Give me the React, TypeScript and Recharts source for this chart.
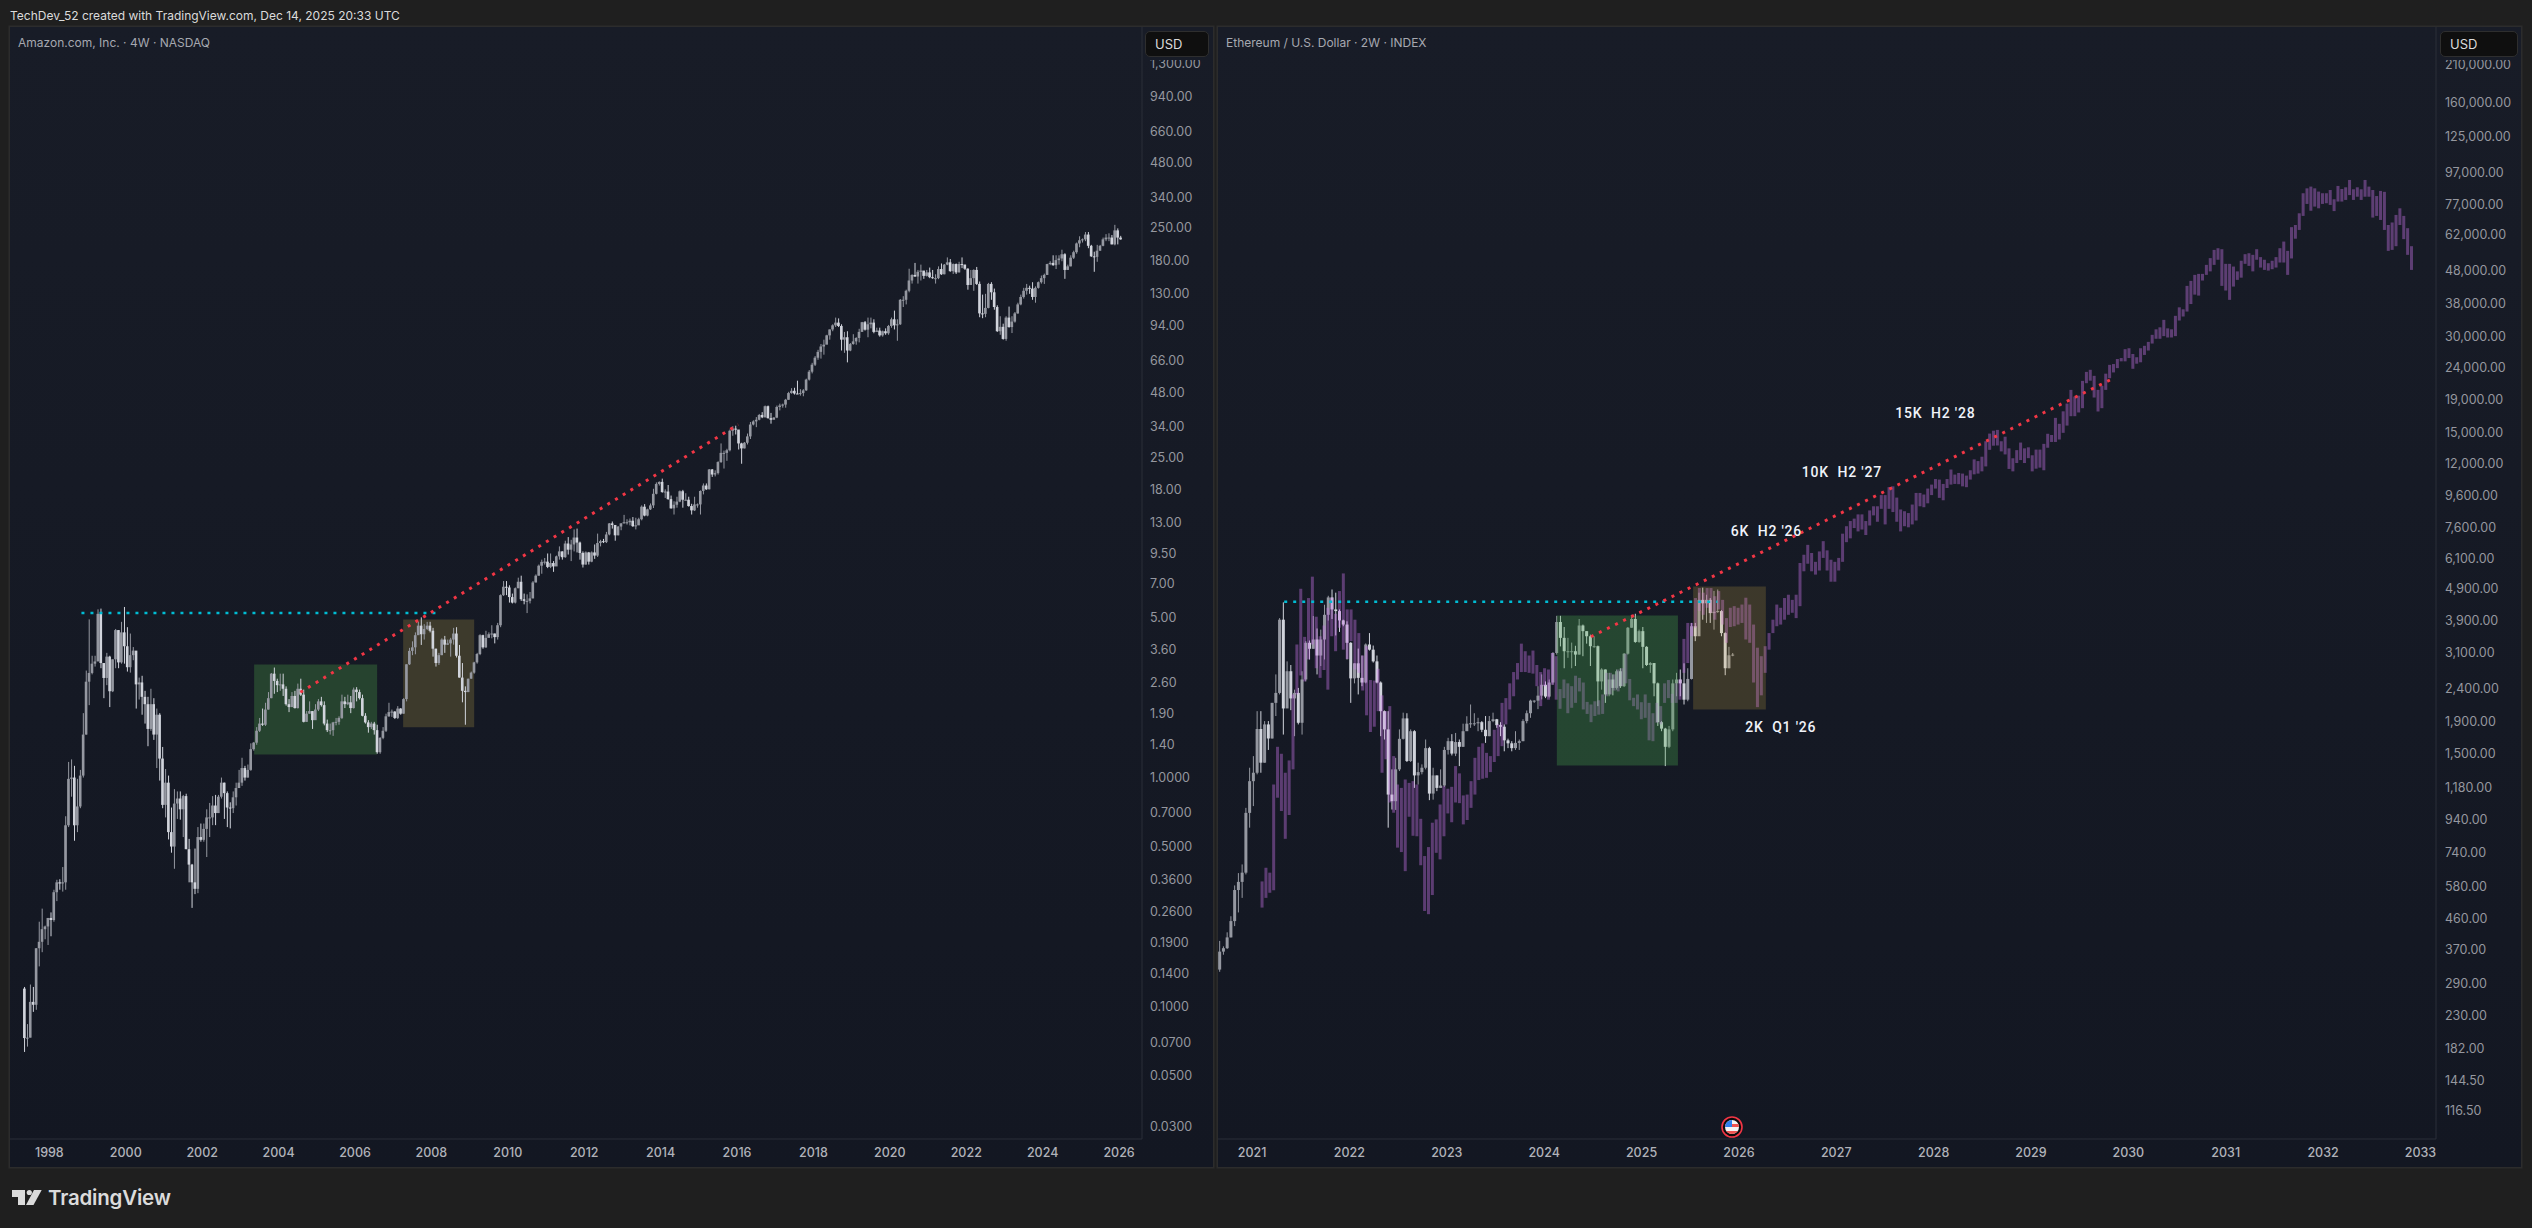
import React from "react";
import { Bar, ComposedChart, ReferenceArea, ReferenceDot, ReferenceLine, XAxis, YAxis } from "recharts";

const amznStartYear = 1997.35;
const amznStep = 1 / 13;
const amznFirstOpen = 0.12;
const amznClose = [
  .073, .0733, .105, .102, .18, .192, .218, .224, .244, .239,
  .316, .349, .345, .349, .619, .987, 1, .619, .748, 1.02,
  1.54, 2.62, 2.86, 3.14, 3.21, 5.18, 3.16, 2.72, 3.37, 2.38,
  3.28, 4.4, 3.18, 4.3, 3.74, 3.03, 3.42, 3.58, 2.55, 2.6,
  2.25, 2.09, 1.63, 2.09, 1.54, 1.88, 1.21, .76, .95, .578,
  .5, .77, .81, .727, .83, .487, .417, .349, .327, .55,
  .535, .597, .67, .67, .755, .7, .825, .95, .855, .74,
  .735, .82, .9, .95, 1.1, 1, 1.08, 1.33, 1.42, 1.6,
  1.72, 1.7, 1.98, 2.22, 2.84, 2.64, 2.53, 2.55, 2.44, 2.09,
  2.03, 2.27, 2.01, 2.44, 2.3, 1.75, 1.9, 1.95, 1.78, 1.98,
  2.15, 2.07, 1.72, 1.61, 1.61, 1.74, 1.75, 1.82, 2.15, 2.09,
  2.13, 2.01, 2.42, 2.36, 2.22, 1.86, 1.74, 1.66, 1.72, 1.61,
  1.29, 1.49, 1.6, 1.85, 1.93, 1.94, 1.82, 2, 1.9, 2.2,
  3.12, 3.57, 3.7, 4.18, 4.6, 4.22, 4.45, 4.6, 4.37, 3.65,
  3.16, 3.42, 4, 3.8, 3.85, 4, 4.25, 3.4, 2.73, 2.39,
  2.36, 2.7, 2.87, 3.18, 3.46, 4.18, 3.7, 4.07, 4.22, 4.25,
  4.1, 4.62, 6.25, 6.8, 6.75, 6.13, 5.8, 6.7, 7.15, 6,
  5.9, 5.9, 6.05, 7.1, 7.6, 8.4,
  8.73, 8.75, 8.3, 8.63, 8.34, 9.23, 9.7, 9.15, 10.5, 9.87,
  10.4, 11.15, 10.6, 9.55, 8.5, 9.6, 8.75, 9.6, 9.3, 10.55,
  10.75, 10.65, 11.5, 12.85, 12.65, 11.4, 12.45, 12.85, 13, 13,
  13.2, 12.5, 12.6, 13.4, 15.2, 13.9, 14.8, 15.4, 17.3, 19.1,
  19.5, 17.6, 17.7, 16.4, 14.95, 15.5, 16, 17.75, 16.3, 16.3,
  15.3, 14.65, 15.55, 15.55, 17.8, 18.8, 18.1, 22.1, 21, 21.3,
  23.8, 26.1, 26.1, 26.8, 32.6, 33.3, 33, 28.7, 27.3, 28.9,
  30.8, 34.7, 35.8, 36.4, 38.2, 37.3, 41.7, 37, 36.4, 37.2,
  41.4, 42, 42.4, 44.5, 47.6, 48.7, 47.4, 47.3, 47.6, 48.9,
  54.5, 59, 63.3, 67.9, 72,
  76, 77.4, 85, 90.2, 94, 96.6, 93.4, 81.4, 83.4, 73,
  77.9, 80, 82.8, 88, 97, 90, 95, 96.6, 88, 89.2,
  85, 88.6, 86.8, 93.4, 99.9, 94, 95, 121.5, 121.5, 133,
  147.5, 156, 153.5, 161, 163, 154.5, 160, 152.5, 151, 151,
  165.5, 157, 173, 177, 162, 174, 160, 174, 173, 166,
  141, 151, 164, 142.5, 106, 105.5, 112, 142.5, 131, 113,
  88.6, 92.6, 82, 101.6, 92.4, 97.6, 106, 116, 125, 133,
  137, 136, 125, 137, 145, 151, 156, 174, 176, 172,
  181, 184, 192, 164, 170, 185.5, 196, 214, 221, 223,
  234, 209, 188, 187, 199, 209, 223, 227, 227, 212,
  244, 227, 223,
];
const amznHigh = [
  .122, .084, .125, .122, .18, .235, .268, .226, .244, .258,
  .324, .358, .36, .407, .678, 1.17, 1.2, 1.125, .987, 1.08,
  1.91, 2.93, 4.9, 3.4, 3.4, 5.42, 5.46, 3.16, 3.5, 3.4,
  3.28, 4.45, 4.4, 4.78, 5.55, 4.53, 4.25, 3.71, 3.55, 2.73,
  2.78, 2.39, 2.25, 2.44, 2.22, 2, 1.91, 1.36, 1.09, 1.02,
  .74, .89, .87, .87, .84, .85, .54, .42, .49, .608,
  .63, .63, .727, .775, .83, .84, .84, 1, .95, .87,
  .78, .87, .95, 1.08, 1.22, 1.125, 1.14, 1.41, 1.43, 1.66,
  1.82, 2, 2.12, 2.36, 2.86, 3.02, 2.7, 2.84, 2.84, 2.5,
  2.2, 2.36, 2.39, 2.57, 2.7, 2.42, 1.95, 2.15, 1.95, 2.09,
  2.2, 2.25, 2.15, 1.79, 1.72, 1.75, 1.82, 1.85, 2.3, 2.25,
  2.3, 2.27, 2.47, 2.48, 2.42, 2.3, 1.91, 1.78, 1.75, 1.75,
  1.7, 1.5, 1.66, 1.9, 2.12, 1.98, 1.95, 2.05, 2.01, 2.22,
  3.12, 3.68, 3.93, 4.3, 4.78, 5, 4.67, 4.78, 4.78, 4.5,
  3.65, 3.5, 4.05, 4.15, 4, 4.07, 4.5, 4.53, 3.79, 3.16,
  2.5, 2.7, 2.9, 3.2, 3.5, 4.22, 4.2, 4.37, 4.3, 4.62,
  4.25, 4.73, 6.3, 7.2, 7.2, 6.9, 6.35, 6.75, 7.45, 7.6,
  6.35, 6.3, 6.45, 7.2, 7.7, 8.5,
  8.93, 9.08, 9.5, 9.5, 8.8, 9.3, 10.2, 9.7, 10.8, 11.2,
  10.9, 12.1, 12.2, 10.7, 9.7, 9.7, 9.65, 9.7, 10.4, 11.6,
  10.9, 11, 11.8, 12.9, 13.1, 12.6, 12.5, 12.9, 14, 13.4,
  13.5, 13.7, 13.6, 13.6, 15.4, 15.6, 14.9, 15.7, 18.2, 19.4,
  19.6, 20.15, 18.1, 18.9, 17, 16.05, 16.8, 17.9, 18, 17.4,
  16.8, 15.65, 16.8, 15.7, 17.9, 19.2, 19.2, 22.2, 22.2, 21.9,
  24, 28.7, 26.7, 27.2, 33, 34.1, 34.3, 32.6, 28.9, 29.1,
  31.7, 35.6, 36.2, 37.4, 38.6, 39.3, 42, 42, 39, 37.4,
  42, 42.8, 42.8, 44.9, 48.2, 50, 50.2, 53.9, 49.5, 49.5,
  55, 60, 64.5, 69, 73.5,
  77.9, 81.4, 85.5, 90.2, 95, 101.6, 100.8, 95, 88, 88.6,
  78.7, 86, 83.4, 90.8, 97.3, 98.2, 101.6, 101.6, 99.9, 91.8,
  91.8, 89.2, 91.2, 94.4, 101.6, 109, 99.9, 122.5, 126, 134.5,
  166, 157, 176, 164, 173, 162, 164, 168, 164, 157,
  170, 175, 174, 186, 183, 175, 175, 178, 186, 173,
  167, 164, 165, 169, 146, 128, 129, 144, 145, 136,
  115, 103, 95.6, 103, 113.5, 103, 107.5, 118, 128, 137,
  142.5, 140, 145, 139, 146, 155, 158, 174.5, 179, 190,
  190, 190, 201, 194, 173, 190, 199, 216, 230, 225,
  240, 240, 211, 197, 211, 211, 227, 235, 237, 233,
  258, 249, 231,
];
const amznLow = [
  .0635, .067, .0735, .095, .097, .15, .173, .197, .186, .203,
  .235, .289, .324, .318, .324, .608, .825, .53, .578, .735,
  1, 1.54, 2.07, 2.82, 3.05, 3.65, 3, 2.22, 2.53, 2.03,
  2.36, 3, 3, 3.14, 3.14, 2.9, 2.87, 3.25, 2, 2.19,
  1.88, 1.72, 1.37, 1.6, 1.46, 1.1, .97, .735, .67, .537,
  .47, .4, .66, .655, .55, .487, .349, .27, .31, .313,
  .525, .525, .45, .55, .62, .62, .7, .81, .66, .608,
  .6, .7, .755, .9, .92, .97, 1, 1.07, 1.31, 1.39,
  1.58, 1.68, 1.68, 1.98, 2.22, 2.32, 2.36, 2.39, 2.27, 2.06,
  1.93, 2.03, 2, 2, 2.27, 1.74, 1.75, 1.9, 1.63, 1.8,
  1.95, 2.04, 1.69, 1.58, 1.54, 1.52, 1.69, 1.7, 1.8, 2.01,
  2.07, 1.91, 2, 2.15, 2.19, 1.85, 1.72, 1.57, 1.63, 1.54,
  1.27, 1.27, 1.47, 1.58, 1.84, 1.84, 1.8, 1.8, 1.88, 1.9,
  2.15, 3.1, 3.42, 3.45, 4.2, 3.79, 4, 4.4, 4.3, 3.37,
  3.05, 3.1, 3.42, 3.5, 3.79, 3.37, 3.8, 3.34, 2.73, 2.13,
  1.7, 2.36, 2.7, 2.84, 3.14, 3.42, 3.65, 3.68, 4.1, 4.05,
  3.85, 4, 4.53, 6.2, 6.25, 5.8, 5.75, 5.75, 6.7, 5.9,
  5.7, 5.22, 5.75, 6.05, 7.1, 7.6,
  7.75, 8.5, 8.2, 8.2, 7.9, 8.4, 8.93, 8.93, 9.1, 9.4,
  8.8, 9.7, 9.6, 8.93, 8.25, 8.5, 8.5, 8.7, 9, 9.17,
  10.2, 10.55, 10.55, 11.4, 12.2, 10.8, 11.4, 12, 12.85, 12.7,
  12.6, 12.4, 12.1, 13, 13.25, 13.8, 13.8, 14.7, 15, 17.2,
  18.8, 17.5, 16.6, 16.3, 14.9, 14.05, 15.05, 15.9, 15.05, 16.2,
  15.2, 14.05, 14.55, 15.05, 14.05, 17.2, 18, 18.1, 20.5, 20.6,
  21, 23.6, 22.3, 24.1, 26.5, 31, 31.4, 27, 23.4, 27.3,
  28.4, 30, 34.4, 33.8, 36.2, 37, 37.3, 36.8, 35, 36.9,
  37, 40, 41.1, 41.1, 44.5, 47.3, 46.9, 47.1, 46.4, 46.1,
  48.7, 54, 58, 62.5, 66.5,
  67.3, 70, 77.9, 81.4, 88.6, 92.4, 92.4, 73, 71.3, 64.8,
  72.5, 77.4, 77.4, 79.2, 88.6, 89.2, 83.4, 91.2, 86.8, 88.6,
  83.9, 83.9, 85.5, 85.5, 91.8, 90.2, 80.5, 94.4, 113, 116,
  131, 143, 153, 143, 147.5, 150, 153.5, 151, 150, 143,
  149.5, 156, 157, 172, 161, 157.5, 157.5, 160, 167, 164,
  134.5, 143, 133, 141, 102, 101, 102, 111.5, 121.5, 110,
  88, 85.5, 81.4, 80.5, 91.8, 87, 96.6, 105.5, 115, 123,
  128, 129, 121.5, 118, 136, 143, 142.5, 156, 172, 171,
  165.5, 173, 179, 150, 164, 170, 183, 193, 206, 216,
  219, 204, 187, 161, 178, 199, 208, 219, 219, 212,
  210, 212, 222,
];
const amznTicks = [1300, 940, 660, 480, 340, 250, 180, 130, 94, 66, 48, 34, 25, 18, 13, 9.5, 7, 5, 3.6, 2.6, 1.9, 1.4, 1, .7, .5, .36, .26, .19, .14, .1, .07, .05, .03];
const amznYears = [1998, 2000, 2002, 2004, 2006, 2008, 2010, 2012, 2014, 2016, 2018, 2020, 2022, 2024, 2026];

// ETH 2W candles, right pane
const ethStartYear = 2020.671;
const ethStep = 1 / 26;
const ethFirstOpen = 320;
const ethClose = [
  364, 373, 403, 453, 566, 600, 641, 984, 1235, 1312,
  1795, 1410, 1855, 1677, 2165, 2325, 3930, 2080, 2716, 2235,
  2325, 1877, 2560, 3330, 3190, 3410, 3040, 3410, 4070, 4610,
  4230, 4180, 3910, 3795, 3330, 2580, 2875, 2590, 2505, 3290,
  3170, 2915, 2505, 2040, 1790, 1122, 1070, 1344, 1673, 1937,
  1427, 1767, 1287, 1318, 1360, 1565, 1130, 1287, 1177, 1197,
  1545, 1645, 1505, 1635, 1580, 1767, 1865, 1870, 1870, 1885,
  1785, 1705, 1900, 1925, 1845, 1825, 1655, 1620, 1565, 1625,
  1645, 1900, 2010, 2200, 2200, 2280, 2465, 2265, 2505, 3095,
  3865, 3450, 3135, 3135, 3135, 3060, 3770, 3620, 3490, 3250,
  3250, 2525, 2750, 2300, 2560, 2410, 2716, 2440, 3080, 3710,
  3950, 3350, 3620, 3235, 2840, 2880, 2490, 1885, 1800, 1580,
  1790, 2490, 2560, 2490, 2215, 2570, 3750, 3490, 4530, 4420,
  4530, 4120, 4160, 4180, 3570, 2775, 3045, 3060,
];
const ethHigh = [
  393, 378, 418, 469, 585, 639, 680, 1020, 1360, 1478,
  2040, 2040, 1900, 1900, 2165, 2655, 3975, 4450, 2915, 2840,
  2380, 2410, 2716, 3370, 3385, 4035, 3690, 3660, 4375, 4665,
  4880, 4770, 4230, 3930, 3885, 3345, 2875, 3195, 3040, 3315,
  3570, 3265, 3040, 2525, 2050, 2040, 1344, 1460, 1790, 2018,
  2010, 1790, 1780, 1410, 1393, 1665, 1580, 1360, 1287, 1344,
  1580, 1685, 1730, 1745, 1665, 1865, 1967, 2140, 2010, 1945,
  1900, 1970, 1970, 2018, 1930, 1885, 1855, 1675, 1645, 1767,
  1665, 1925, 2050, 2215, 2205, 2440, 2655, 2525, 2560, 3115,
  4040, 4040, 3730, 3450, 3335, 3260, 3950, 3795, 3620, 3530,
  3490, 3265, 2775, 2750, 2685, 2655, 2750, 2775, 3095, 3730,
  4070, 4100, 3660, 3730, 3250, 2900, 2875, 2505, 1900, 1810,
  1835, 2560, 2685, 2750, 2875, 2775, 3840, 3840, 4770, 4945,
  4700, 4590, 4830, 4880, 4210, 3590, 3235, 3095,
];
const ethLow = [
  315, 356, 371, 403, 437, 482, 535, 633, 885, 1033,
  1297, 1312, 1410, 1545, 1677, 1970, 2300, 1725, 2090, 2055,
  1705, 1855, 1725, 2525, 2955, 3190, 2655, 2820, 2955, 3905,
  3950, 3510, 3600, 3750, 2955, 2165, 2490, 2300, 2440, 2490,
  3150, 2890, 2490, 1705, 1665, 885, 1008, 1005, 1328, 1665,
  1417, 1417, 1177, 1206, 1297, 1344, 1078, 1082, 1150, 1177,
  1186, 1495, 1485, 1478, 1376, 1580, 1790, 1810, 1835, 1767,
  1755, 1625, 1705, 1885, 1810, 1705, 1530, 1565, 1530, 1545,
  1545, 1645, 1870, 1945, 2165, 2070, 2220, 2240, 2250, 2465,
  3060, 3245, 2775, 2990, 2775, 2820, 3060, 3025, 3310, 2820,
  3215, 2115, 2380, 2165, 2270, 2285, 2380, 2410, 2425, 3060,
  3710, 3330, 3330, 2775, 2820, 2685, 2270, 1835, 1767, 1376,
  1565, 1767, 2270, 2270, 2140, 2190, 2560, 3370, 4070, 3930,
  3840, 3840, 3660, 4130, 3490, 2640, 2775, 3025,
];

// purple bars-pattern overlay on the ETH pane, no wicks
const fractalStartYear = 2021.107;
const fractalStep = 0.03975;
const fractalHigh = [
  602, 664, 641, 1206, 1580, 1503, 1312, 1433, 2300, 3290,
  4905, 3475, 4590, 5350, 4015, 3490, 3770, 4280, 4600, 4100,
  4825, 5475, 4230, 4230, 3930, 3570, 3040, 3250, 2550, 2540,
  2765, 2285, 2040, 2115, 1478, 1206, 1177, 1250, 1220, 1235,
  1206, 943, 722, 770, 917, 939, 1045, 1192, 1170, 1186,
  1376, 1306, 1115, 1122, 1235, 1460, 1580, 1620, 1513, 1478,
  1785, 1855, 2165, 2240, 2490, 2700, 2880, 3310, 3135, 3040,
  3150, 2840, 2700, 2775, 2750, 3095, 3025, 2390, 2560, 2490,
  2440, 2630, 2590, 2505, 2180, 2140, 2190, 2205, 2300, 2685,
  2685, 2655, 2750, 2775, 3080, 2570, 2245, 2300, 2175, 2300,
  2165, 2010, 2165, 2115, 2490, 2550, 2310, 2490, 2560, 3425,
  3840, 3840, 4590, 4930, 4770, 4930, 4930, 4650, 4825, 4530,
  3975, 4280, 4330, 4280, 4380, 4600, 4380, 3795, 3215, 3025,
  3250, 3570, 3930, 4380, 4280, 4590, 4700, 4530, 4700,
  5900, 6260, 6720, 6340, 5950, 6410, 6900, 6460, 6040, 5950,
  6120, 7280, 7680, 7970, 8110, 8360, 8360, 7970, 8600, 8860,
  8860, 9600, 9600, 10160, 10220, 9430, 8660, 8550, 8440, 8970,
  9750, 9750, 9640, 10060, 10350, 10770, 10730, 10400, 10770, 11530,
  11120, 11250, 11200, 11040, 11470, 12400, 12250, 12640, 14120, 14920,
  15230, 15320, 14120, 14590, 13420, 12500, 13250, 13990, 13420, 13520,
  12770, 13300, 13300, 13860, 14900, 14770, 16700,
  16000, 17500, 18500,
  20410, 19450, 19580, 21770, 23220, 23570, 22570, 20410, 21000, 22920,
  24420, 24560, 25460, 25640, 27320, 27510, 26400, 25790, 27510, 27990,
  28790, 30280, 31500, 31950, 33710, 31720, 31500, 34700, 36880, 36360,
  43010, 44580, 46540, 46870, 46870, 50000, 52480, 55670, 56340, 55940,
  50370, 50370, 49400, 47720, 51500, 53980, 54350, 53730, 55940, 52860,
  51870, 50600, 51500, 52860, 56340, 59090, 55280, 65520, 66550, 72370,
  83550, 86540, 87630, 86540, 84550, 83550, 83550, 85500, 80020, 88050,
  86150, 87190, 91900, 85950, 87190, 85950, 91900, 87630, 85500, 81880,
  84950, 84400, 66550, 67750, 71520, 75000, 71020, 65040, 57160,
];
const fractalLow = [
  499, 535, 555, 565, 1097, 997, 817, 969, 1344, 2300,
  2635, 2525, 2955, 3290, 2775, 2590, 2740, 2380, 3490, 3135,
  3710, 3170, 2965, 3370, 2750, 2685, 2365, 1980, 1757, 1825,
  2040, 1312, 1445, 1060, 985, 767, 743, 648, 957, 835,
  832, 676, 487, 476, 546, 739, 705, 832, 980, 920,
  1060, 1055, 906, 935, 1020, 1122, 1245, 1257, 1265, 1318,
  1417, 1478, 1587, 1855, 2065, 2270, 2560, 2700, 2700, 2685,
  2670, 2440, 2115, 2440, 2215, 2465, 2215, 2075, 2240, 2010,
  2090, 2165, 2350, 2065, 2000, 1885, 1970, 1990, 2000, 2270,
  2300, 2365, 2350, 2440, 2490, 2205, 2115, 2065, 1925, 1945,
  1655, 1645, 1877, 1855, 2165, 2240, 2165, 2165, 2215, 2685,
  2880, 3490, 3710, 4180, 4070, 4280, 4130, 3930, 4230, 3795,
  3330, 3730, 3750, 3795, 3840, 3410, 3330, 2505, 2100, 2285,
  2685, 3170, 3570, 3750, 3795, 3930, 4070, 4130, 3975,
  4330, 5560, 5870, 5560, 5430, 5590, 6120, 5590, 5160, 5160,
  5590, 5950, 6850, 7040, 7580, 7400, 7500, 7210, 7720, 8300,
  7930, 8700, 7780, 8700, 8500, 7930, 7400, 7680, 7620, 7780,
  8000, 8860, 8800, 9050, 9600, 10060, 9410, 9250, 10100, 10350,
  10400, 10380, 10220, 10160, 10730, 11140, 11200, 11380, 11790, 13280,
  13680, 13700, 13130, 12850, 11580, 11380, 12080, 12340, 12080, 12510,
  11380, 11600, 11690, 11470, 13480, 14050, 14050,
  14300, 15000, 15800,
  16900, 16900, 17360, 17900, 21410, 21800, 19320, 17480, 17900, 20410,
  22190, 23130, 23850, 25040, 25040, 25640, 23740, 24620, 24870, 26220,
  27060, 28450, 29440, 29440, 30000, 29710, 29710, 30000, 33550, 34530,
  35780, 37760, 40400, 40120, 44690, 46540, 47720, 50000, 51870, 43010,
  41600, 38910, 42800, 44900, 45620, 50370, 49640, 47720, 51870, 49050,
  48230, 47990, 48470, 49050, 50850, 50850, 46540, 52350, 60320, 64230,
  71020, 77400, 73700, 75930, 75000, 77400, 77770, 76850, 73520, 78720,
  78720, 79650, 82450, 79650, 81500, 79650, 81500, 81500, 70180, 71020,
  69000, 64230, 55280, 55670, 57160, 66550, 60140, 53730, 48230,
];
const ethTicks = [210000, 160000, 125000, 97000, 77000, 62000, 48000, 38000, 30000, 24000, 19000, 15000, 12000, 9600, 7600, 6100, 4900, 3900, 3100, 2400, 1900, 1500, 1180, 940, 740, 580, 460, 370, 290, 230, 182, 144.5, 116.5];
const ethYears = [2021, 2022, 2023, 2024, 2025, 2026, 2027, 2028, 2029, 2030, 2031, 2032, 2033];
// the gap after the price target is wider than a normal space, hence the nbsp
const ethNotes = [
  { text: "2K\u00A0\u00A0Q1 '26", year: 2026.43, price: 1822 },
  { text: "6K\u00A0\u00A0H2 '26", year: 2026.283, price: 7445 },
  { text: "10K\u00A0\u00A0H2 '27", year: 2027.058, price: 11360 },
  { text: "15K\u00A0\u00A0H2 '28", year: 2028.018, price: 17330 },
];

const UP = "#9598a1";
const DOWN = "#d1d4dc";
const CYAN = "#00bcd4";
const RED = "#f23645";
const GRID = "#2a2e39";

const candleRow = (close: number[], high: number[], low: number[], firstOpen: number, i: number) => {
  const open = i === 0 ? firstOpen : close[i - 1];
  return {
    body: [Math.min(open, close[i]), Math.max(open, close[i])],
    wick: [low[i], high[i]],
    down: close[i] < open,
  };
};

const amznRows = amznClose.map((_, i) => ({
  year: amznStartYear + i * amznStep,
  ...candleRow(amznClose, amznHigh, amznLow, amznFirstOpen, i),
}));
// one row holds an ETH candle and a fractal bar, each has its own x key
const ethRows = fractalHigh.map((h, i) => ({
  year: ethStartYear + i * ethStep,
  fractalYear: fractalStartYear + i * fractalStep,
  fractal: [fractalLow[i], h],
  ...(i < ethClose.length ? candleRow(ethClose, ethHigh, ethLow, ethFirstOpen, i) : {}),
}));

const candleShape = (p: any) => {
  if (!Number.isFinite(p.y) || !Number.isFinite(p.height) || !p.payload.wick) return <g />;
  return <rect x={p.x} y={p.y} width={p.width} height={Math.max(p.height, 1)} fill={p.payload.down ? DOWN : UP} />;
};
const fractalShape = (p: any) => {
  if (!Number.isFinite(p.y) || !Number.isFinite(p.height)) return <g />;
  return <rect x={p.x} y={p.y} width={p.width} height={p.height} fill="#c873e8" fillOpacity={0.4} />;
};

const formatPrice = (v: number) =>
  v.toLocaleString("en-US", { minimumFractionDigits: v <= 1 ? 4 : 2, maximumFractionDigits: v <= 1 ? 4 : 2 });

const priceTick = { fill: "#95979f", fontSize: 12.5, fontFamily: "Inter" };
const timeTick = { fill: "#b0b2b9", fontSize: 12.5, fontFamily: "Inter", fontWeight: 500 };

const AmznChart = () => {
  const domain = [1996.97, 2026.6];
  return (
    <ComposedChart width={1203} height={1140} data={amznRows} margin={{ top: 0, right: 0, bottom: 0, left: 0 }}>
      <XAxis xAxisId="body" type="number" dataKey="year" domain={domain} allowDataOverflow ticks={amznYears} interval={0} height={28} tick={timeTick} tickLine={false} tickSize={0} tickMargin={9} axisLine={{ stroke: GRID }} />
      <XAxis xAxisId="wick" type="number" dataKey="year" domain={domain} allowDataOverflow hide />
      <YAxis orientation="right" scale="log" domain={[0.02648, 1883]} allowDataOverflow ticks={amznTicks} interval={0} width={71} tick={priceTick} tickFormatter={formatPrice} tickLine={false} tickSize={0} tickMargin={8} axisLine={{ stroke: GRID }} />
      <ReferenceArea xAxisId="body" x1={2003.36} x2={2006.58} y1={1.262} y2={3.116} fill="#26432f" fillOpacity={1} stroke="none" />
      <ReferenceArea xAxisId="body" x1={2007.26} x2={2009.12} y1={1.656} y2={4.894} fill="#3d3a2c" fillOpacity={1} stroke="none" />
      <Bar xAxisId="wick" dataKey="wick" barSize={1} shape={candleShape} isAnimationActive={false} />
      <Bar xAxisId="body" dataKey="body" barSize={3} shape={candleShape} isAnimationActive={false} />
      <ReferenceLine xAxisId="body" segment={[{ x: 1998.84, y: 5.22 }, { x: 2008.115, y: 5.22 }]} stroke={CYAN} strokeWidth={2.6} strokeDasharray="3 6" />
      <ReferenceLine xAxisId="body" segment={[{ x: 2004.57, y: 2.355 }, { x: 2016.03, y: 34.7 }]} stroke={RED} strokeWidth={3} strokeDasharray="3 6" />
    </ComposedChart>
  );
};

const EthChart = () => {
  const domain = [2020.65, 2033.16];
  return (
    <ComposedChart width={1303} height={1140} data={ethRows} margin={{ top: 0, right: 0, bottom: 0, left: 0 }}>
      <XAxis xAxisId="body" type="number" dataKey="year" domain={domain} allowDataOverflow ticks={ethYears} interval={0} height={28} tick={timeTick} tickLine={false} tickSize={0} tickMargin={9} axisLine={{ stroke: GRID }} />
      <XAxis xAxisId="wick" type="number" dataKey="year" domain={domain} allowDataOverflow hide />
      <XAxis xAxisId="fractal" type="number" dataKey="fractalYear" domain={domain} allowDataOverflow hide />
      <YAxis orientation="right" scale="log" domain={[95, 275100]} allowDataOverflow ticks={ethTicks} interval={0} width={85} tick={priceTick} tickFormatter={formatPrice} tickLine={false} tickSize={0} tickMargin={9} axisLine={{ stroke: GRID }} />
      <Bar xAxisId="wick" dataKey="wick" barSize={1} shape={candleShape} isAnimationActive={false} />
      <Bar xAxisId="body" dataKey="body" barSize={3} shape={candleShape} isAnimationActive={false} />
      <Bar xAxisId="fractal" dataKey="fractal" barSize={3} shape={fractalShape} isAnimationActive={false} />
      <ReferenceArea xAxisId="body" x1={2024.13} x2={2025.374} y1={1383} y2={4050} fill="#4caf50" fillOpacity={0.3} stroke="none" zIndex={450} />
      <ReferenceArea xAxisId="body" x1={2025.53} x2={2026.277} y1={2066} y2={4986} fill="#dcb446" fillOpacity={0.2} stroke="none" zIndex={450} />
      <ReferenceLine xAxisId="body" segment={[{ x: 2021.33, y: 4468 }, { x: 2025.78, y: 4468 }]} stroke={CYAN} strokeWidth={2.6} strokeDasharray="3 6" zIndex={460} />
      <ReferenceLine xAxisId="body" segment={[{ x: 2024.48, y: 3478 }, { x: 2029.865, y: 22320 }]} stroke={RED} strokeWidth={3} strokeDasharray="3 6" zIndex={460} />
      {ethNotes.map((n) => (
        <ReferenceDot
          key={n.text}
          xAxisId="body"
          x={n.year}
          y={n.price}
          r={0}
          fill="none"
          stroke="none"
          label={{ value: n.text, fill: "#f0f3fa", fontSize: 14, fontFamily: "Roboto", fontWeight: 500, style: { letterSpacing: 0.8 } }}
        />
      ))}
    </ComposedChart>
  );
};

const panelStyle: React.CSSProperties = {
  position: "absolute",
  top: 27,
  height: 1140,
  background: "linear-gradient(#181c27, #131722)",
  boxShadow: "0 0 0 1.5px #2c2c2c",
};
const legendStyle: React.CSSProperties = {
  position: "absolute",
  top: 8,
  left: 8,
  fontSize: 12,
  color: "#a6a8b0",
  whiteSpace: "nowrap",
  zIndex: 3,
};
const usdStyle: React.CSSProperties = {
  position: "absolute",
  top: 4,
  height: 26,
  boxSizing: "border-box",
  background: "#0f0f0f",
  border: "1px solid #2e2e2e",
  borderRadius: 5,
  color: "#dbdbdb",
  fontSize: 13,
  lineHeight: "24px",
  paddingLeft: 9,
  zIndex: 3,
};
// the price scale clips its labels just under the currency button
const scaleCapStyle: React.CSSProperties = {
  position: "absolute",
  top: 0,
  height: 33,
  background: "#181c27",
  zIndex: 2,
};

export default function App() {
  return (
    <div style={{ position: "absolute", left: 0, top: 0, width: 2532, height: 1228, background: "#1f1f1f", fontFamily: "Inter", overflow: "hidden" }}>
      <div style={{ position: "absolute", left: 10, top: 8, fontSize: 12, color: "#dbdbdb", whiteSpace: "nowrap" }}>
        TechDev_52 created with TradingView.com, Dec 14, 2025 20:33 UTC
      </div>

      <div style={{ ...panelStyle, left: 10, width: 1203 }}>
        <div style={legendStyle}>Amazon.com, Inc. · 4W · NASDAQ</div>
        <div style={{ ...scaleCapStyle, left: 1133, width: 70 }} />
        <div style={{ ...usdStyle, left: 1135, width: 64 }}>USD</div>
        <AmznChart />
      </div>

      <div style={{ ...panelStyle, left: 1218, width: 1303 }}>
        <div style={legendStyle}>Ethereum / U.S. Dollar · 2W · INDEX</div>
        <div style={{ ...scaleCapStyle, left: 1219, width: 84 }} />
        <div style={{ ...usdStyle, left: 1222, width: 78 }}>USD</div>
        <EthChart />
        <svg width={24} height={24} style={{ position: "absolute", left: 502, top: 1088, zIndex: 3 }}>
          <clipPath id="flag"><circle cx={12} cy={12} r={7} /></clipPath>
          <circle cx={12} cy={12} r={10} fill="#0c0c0c" stroke={RED} strokeWidth={1.6} />
          <g clipPath="url(#flag)">
            <rect x={5} y={5} width={14} height={14} fill="#f5f5f5" />
            <rect x={5} y={9} width={14} height={3} fill="#ef5350" />
            <rect x={5} y={16} width={14} height={3} fill="#ef5350" />
            <rect x={5} y={5} width={7} height={7} fill="#2f80ed" />
          </g>
        </svg>
      </div>

      <svg width={40} height={24} style={{ position: "absolute", left: 8, top: 1186 }}>
        <path d="M4 4H17V19H10V11H4Z" fill="#dbdbdb" />
        <circle cx={21.3} cy={6.5} r={2.6} fill="#dbdbdb" />
        <path d="M26 4H33.7L25.5 19H18Z" fill="#dbdbdb" />
      </svg>
      <div style={{ position: "absolute", left: 48, top: 1185, fontSize: 20.5, fontWeight: 600, color: "#dbdbdb", lineHeight: "26px", letterSpacing: -0.2 }}>
        TradingView
      </div>
    </div>
  );
}
